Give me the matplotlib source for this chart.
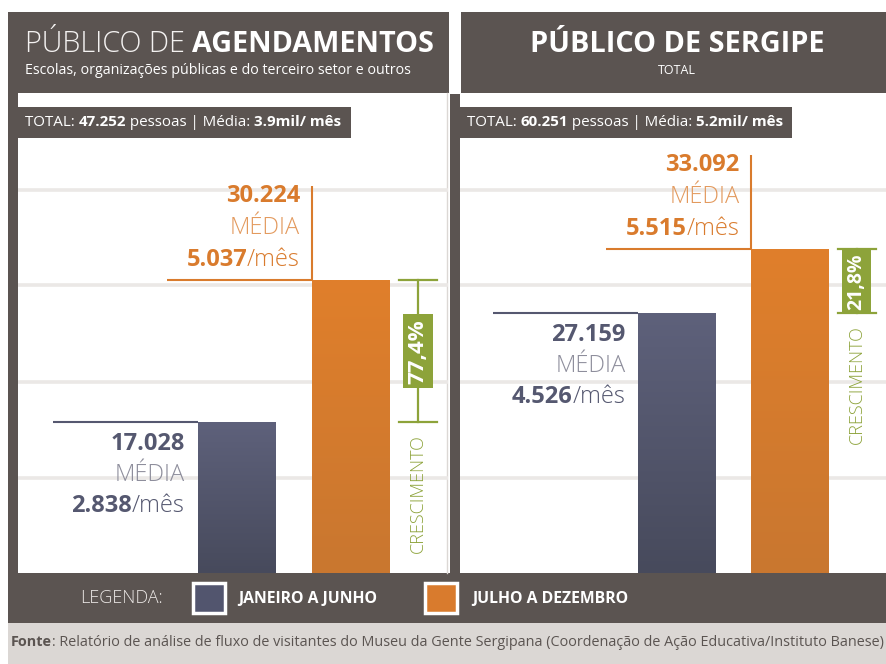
import matplotlib
matplotlib.use('Agg')
import matplotlib.pyplot as plt
from matplotlib.patches import Rectangle
from matplotlib.colors import LinearSegmentedColormap
from matplotlib import font_manager
import numpy as np

# ---------------- data ----------------
periods = ['JANEIRO A JUNHO', 'JULHO A DEZEMBRO']
agend_values = [17028, 30224]
agend_monthly = [2838, 5037]
agend_growth = '77,4%'
agend_total = '47.252'
agend_avg = '3.9mil'
serg_values = [27159, 33092]
serg_monthly = [4526, 5515]
serg_growth = '21,8%'
serg_total = '60.251'
serg_avg = '5.2mil'
source_text = ('Relatório de análise de fluxo de visitantes do Museu da Gente Sergipana '
               '(Coordenação de Ação Educativa/Instituto Banese)')

# ---------------- fonts ----------------
def wnum(w):
    if isinstance(w, str):
        return font_manager.weight_dict.get(w, 400)
    return int(w)

entries = font_manager.fontManager.ttflist
names = {f.name for f in entries}

def has_weight(name, cond):
    return any(f.name == name and cond(wnum(f.weight)) for f in entries)

FONT = 'DejaVu Sans'
for cand in ['Open Sans', 'Noto Sans', 'Lato', 'Roboto']:
    if cand in names and has_weight(cand, lambda w: w >= 600):
        FONT = cand
        break
LIGHT = FONT
LIGHT_W = 'normal'
if has_weight(FONT, lambda w: w <= 300):
    LIGHT_W = 'light'
else:
    for f in entries:
        if f.name.startswith(FONT) and 'Light' in f.name and 'Condensed' not in f.name:
            LIGHT = f.name
            LIGHT_W = 'normal'
            break
NARROW = 'Liberation Sans Narrow' if 'Liberation Sans Narrow' in names else FONT

plt.rcParams['font.family'] = [FONT, 'DejaVu Sans']

W, H = 886, 664
DARK = '#5b5451'
FOOT = '#dbd7d4'
BLUE = '#52556e'
ORANGE = '#d97b2d'
GREEN = '#8da33a'
GRID = '#ebe8e6'
BLUE_TXT = '#555870'
BLUE_MED = '#8e8e9c'
ORANGE_MED = '#e39a5e'
colors = [BLUE, ORANGE]
gradients = [('#474a5c', '#5e617b'), ('#c97730', '#e07f2b')]

fig = plt.figure(figsize=(W / 100, H / 100), dpi=100)
fig.patch.set_facecolor('white')


def pixel_axes(z):
    a = fig.add_axes([0, 0, 1, 1], zorder=z)
    a.set_xlim(0, W)
    a.set_ylim(H, 0)
    a.axis('off')
    a.patch.set_alpha(0)
    return a


bg = pixel_axes(0)
renderer = fig.canvas.get_renderer()


def rect(a, x, y, w, h, fc, **kw):
    a.add_patch(Rectangle((x, y), w, h, facecolor=fc, edgecolor=kw.pop('ec', 'none'), **kw))


# panel frames
rect(bg, 8, 12, 441, 81, DARK)
rect(bg, 8, 93, 10, 480, DARK)
rect(bg, 461, 12, 425, 81, DARK)
rect(bg, 450, 94, 10, 479, DARK)
bg.plot([447.5, 447.5], [93, 573], color='#dcd8d5', lw=1)
rect(bg, 18, 107, 333, 31, DARK)
rect(bg, 460, 107, 332, 31, DARK)
rect(bg, 8, 573, 878, 50, DARK)
rect(bg, 8, 623, 878, 41, FOOT)


def rich(a, x, y, pieces, size, ha='left', va='center'):
    """pieces: list of (text, family, weight, color)"""
    objs = []
    widths = []
    for txt, fam, wt, col in pieces:
        t = a.text(0, y, txt, fontsize=size, family=[fam, 'DejaVu Sans'], weight=wt,
                   color=col, ha='left', va=va)
        bb = t.get_window_extent(renderer)
        objs.append(t)
        widths.append(bb.width)
    total = sum(widths)
    start = x - total if ha == 'right' else (x - total / 2 if ha == 'center' else x)
    cur = start
    for t, w in zip(objs, widths):
        t.set_x(cur)
        cur += w
    return total


# ---------------- charts ----------------
def make_chart(left_px, width_px, values):
    ax = fig.add_axes([left_px / W, (H - 573) / H, width_px / W, (573 - 140) / H], zorder=1)
    ax.patch.set_alpha(0)
    x = np.arange(len(values))
    bars = ax.bar(x, values, width=0.684, color=colors, zorder=2, linewidth=0)
    ax.set_xlim(-1.921, 1.851)
    ax.set_ylim(3000, 43270)
    grad = np.linspace(0, 1, 256).reshape(-1, 1)
    for b, (c0, c1) in zip(bars, gradients):
        cmap = LinearSegmentedColormap.from_list('g', [c0, c1])
        im = ax.imshow(grad, cmap=cmap, origin='lower', aspect='auto', zorder=2.5,
                       extent=[b.get_x(), b.get_x() + b.get_width(), 3000, b.get_height()],
                       interpolation='bilinear')
        im.set_clip_path(b)
    ax.set_xlim(-1.921, 1.851)
    ax.set_ylim(3000, 43270)
    for f in (0.22, 0.441, 0.665, 0.885):
        ax.plot([0, 1], [f, f], transform=ax.transAxes, color=GRID, lw=2.6, zorder=1,
                solid_capstyle='butt')
    ax.axis('off')
    return ax, bars


ov = pixel_axes(3)


def bar_px(ax, b):
    x0 = b.get_x()
    x1 = x0 + b.get_width()
    top = b.get_height()
    d = ax.transData.transform([(x0, top), (x1, top)])
    return d[0, 0], d[1, 0], H - d[0, 1]


def fmt(v):
    return f'{v:,}'.replace(',', '.')


def annotate_panel(ax, bars, values, monthly, growth, gsize):
    # first period (below its line)
    lx, rx, ty = bar_px(ax, bars[0])
    ov.plot([lx - 145, lx], [ty, ty], color=BLUE_TXT, lw=1.5, solid_capstyle='butt')
    tx = lx - 13
    ov.text(tx, ty + 22, fmt(values[0]), ha='right', va='center', fontsize=17,
            weight='bold', color=BLUE_TXT)
    ov.text(tx, ty + 53, 'MÉDIA', ha='right', va='center', fontsize=17,
            family=[LIGHT, 'DejaVu Sans'], weight=LIGHT_W, color=BLUE_MED)
    rich(ov, tx, ty + 84, [(fmt(monthly[0]), FONT, 'bold', BLUE_TXT),
                           ('/mês', LIGHT, LIGHT_W, BLUE_TXT)], 17, ha='right')
    blue_top = ty
    # second period (above its line)
    lx, rx, ty = bar_px(ax, bars[1])
    ov.plot([lx - 145, lx], [ty, ty], color=ORANGE, lw=1.5, solid_capstyle='butt')
    ov.plot([lx, lx], [ty - 94, ty], color=ORANGE, lw=1.5, solid_capstyle='butt')
    tx = lx - 12
    ov.text(tx, ty - 84, fmt(values[1]), ha='right', va='center', fontsize=17,
            weight='bold', color=ORANGE)
    ov.text(tx, ty - 52, 'MÉDIA', ha='right', va='center', fontsize=17,
            family=[LIGHT, 'DejaVu Sans'], weight=LIGHT_W, color=ORANGE_MED)
    rich(ov, tx, ty - 20, [(fmt(monthly[1]), FONT, 'bold', ORANGE),
                           ('/mês', LIGHT, LIGHT_W, ORANGE)], 17, ha='right')
    orange_top = ty
    # growth bracket
    xc = rx + 28
    ov.plot([xc, xc], [orange_top, blue_top], color=GREEN, lw=1.6)
    for yy in (orange_top, blue_top):
        ov.plot([xc - 19, xc + 19], [yy, yy], color=GREEN, lw=1.6)
    ov.text(xc, (orange_top + blue_top) / 2, growth, rotation=90, ha='center', va='center',
            fontsize=gsize, weight='bold', color='white',
            bbox=dict(boxstyle='square,pad=0.22', fc=GREEN, ec='none'))
    ov.text(xc, blue_top + 12, 'CRESCIMENTO', rotation=90, ha='center', va='top',
            fontsize=13, family=[LIGHT, 'DejaVu Sans'], weight=LIGHT_W, color=GREEN)


axL, barsL = make_chart(18, 430, agend_values)
axR, barsR = make_chart(460, 426, serg_values)
annotate_panel(axL, barsL, agend_values, agend_monthly, agend_growth, 16)
annotate_panel(axR, barsR, serg_values, serg_monthly, serg_growth, 14)

# ---------------- headers ----------------
rich(ov, 25, 44, [('PÚBLICO DE ', LIGHT, LIGHT_W, '#f4f2f1'),
                  ('AGENDAMENTOS', FONT, 'bold', 'white')], 20.7)
ov.text(25, 70, 'Escolas, organizações públicas e do terceiro setor e outros',
        fontsize=10.25, color='white', va='center', ha='left')
ov.text(677, 44, 'PÚBLICO DE SERGIPE', fontsize=20.8, weight='bold', color='white',
        ha='center', va='center')
ov.text(677, 70, 'TOTAL', fontsize=9, color='white', ha='center', va='center')

for x0, tot, avg in ((25, agend_total, agend_avg), (467, serg_total, serg_avg)):
    rich(ov, x0, 122, [('TOTAL: ', FONT, 'normal', 'white'),
                       (tot, FONT, 'bold', 'white'),
                       (' pessoas | Média: ', FONT, 'normal', 'white'),
                       (avg + '/ mês', FONT, 'bold', 'white')], 10.9)

# ---------------- legend ----------------
ov.text(80, 598, 'LEGENDA:', fontsize=13, family=[LIGHT, 'DejaVu Sans'], weight=LIGHT_W,
        color='#ece8e6', ha='left', va='center')
for (sx, tx), col, lab in zip(((193, 238), (425, 472)), colors, periods):
    rect(ov, sx, 583, 32, 30, col, ec='white', lw=2.5)
    ov.text(tx, 599, lab, fontsize=11.3, family=[NARROW, 'DejaVu Sans'], weight='bold',
            color='white', ha='left', va='center')

# ---------------- footer ----------------
size = 12
wtest = rich(ov, -2000, 642, [('Fonte', NARROW, 'bold', DARK),
                              (': ' + source_text, NARROW, 'normal', DARK)], size)
for t in ov.texts[-2:]:
    t.remove()
size = size * 872 / wtest
rich(ov, 11, 642, [('Fonte', NARROW, 'bold', DARK),
                   (': ' + source_text, NARROW, 'normal', DARK)], size)

fig.savefig('out.png', dpi=100, facecolor='white')
